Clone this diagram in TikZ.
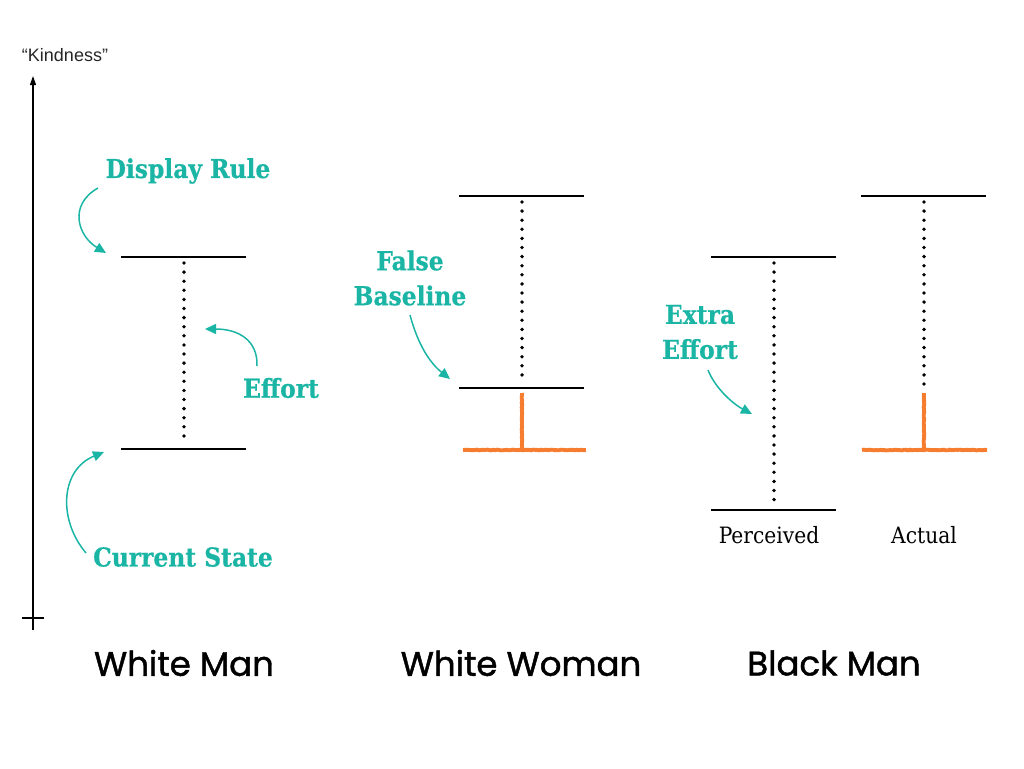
\documentclass[tikz,border=0pt]{standalone}
\usepackage{fontspec}
\setmainfont{DejaVu Serif Condensed}
\newfontfamily\notefont[FakeBold=0.6]{DejaVu Serif Condensed Bold}
\newfontfamily\groupfont[FakeBold=1.3]{Poppins}
\newfontfamily\axisfont{Liberation Sans}
\usetikzlibrary{arrows.meta}
\usetikzlibrary{decorations.pathmorphing}

\definecolor{noteteal}{RGB}{26,181,164}
\definecolor{baseorange}{RGB}{246,125,48}

\begin{document}
\begin{tikzpicture}[
    x=1pt, y=-1pt,
    every node/.style={inner sep=0pt},
    bar/.style={line width=2.4pt},
    gap/.style={line width=3.8pt, line cap=round, dash pattern=on 0pt off 9.1pt},
    base/.style={draw=baseorange, line width=3.9pt,
        decorate, decoration={random steps, segment length=2pt, amplitude=0.35pt}},
    note/.style={text=noteteal, font=\notefont\fontsize{26}{35}\selectfont, align=center},
    pointer/.style={-{Triangle[width=10pt,length=11pt]}, draw=noteteal, line width=1.5pt},
    group/.style={font=\groupfont\fontsize{34}{40}\selectfont},
    column/.style={font=\fontsize{22.5}{26}\selectfont}
]
\useasboundingbox (0,0) rectangle (1024,768);

%---------------------------------
% Axis
%---------------------------------
\coordinate (axbot) at (33,630);
\coordinate (axtop) at (33,76);
\coordinate (tickl) at (22,618);
\coordinate (tickr) at (44,618);
\draw[line width=1.2pt, -{Triangle[width=6pt,length=9pt]}] (axbot) -- (axtop);
\draw[line width=1.2pt] (tickl) -- (tickr);
\node[font=\axisfont\fontsize{18}{20}\selectfont, text=black!85] (kindness) at (65,55) {“Kindness”};

%---------------------------------
% White Man
%---------------------------------
\coordinate (wmtop) at (184,257);
\coordinate (wmbot) at (184,449);
\draw[bar] ([xshift=-63pt]wmtop) -- ([xshift=62pt]wmtop);
\draw[bar] ([xshift=-63pt]wmbot) -- ([xshift=62pt]wmbot);
\draw[gap] ([yshift=-6pt]wmtop) -- ([yshift=5pt]wmbot);

\node[note] (display) at (188,171) {Display Rule};
\node[note] (effort)  at (281,388) {Effort};
\node[note] (current) at (183,557) {Current State};

\coordinate (displayfrom) at (98,188);
\coordinate (displayto)   at (106,253);
\coordinate (effortfrom)  at (257,366);
\coordinate (effortto)    at (205,329);
\coordinate (currentfrom) at (86,553);
\coordinate (currentto)   at (104,452);

\draw[pointer] (displayfrom) .. controls (68,205) and (78,236) .. (displayto);
\draw[pointer] (effortfrom) .. controls (258,340) and (238,329) .. (effortto);
\draw[pointer] (currentfrom) .. controls (58,520) and (60,470) .. (currentto);

\node[group] (whiteman) at (184,663) {White Man};

%---------------------------------
% White Woman
%---------------------------------
\coordinate (wwtop)  at (522,196);
\coordinate (wwmid)  at (522,388);
\coordinate (wwbase) at (522,450);
\draw[bar] ([xshift=-63pt]wwtop) -- ([xshift=62pt]wwtop);
\draw[bar] ([xshift=-63pt]wwmid) -- ([xshift=62pt]wwmid);
\draw[gap] ([yshift=-6pt]wwtop) -- ([yshift=5pt]wwmid);
\draw[base] ([yshift=-5pt]wwmid) -- (wwbase);
\draw[base] ([xshift=-59pt]wwbase) -- ([xshift=64pt]wwbase);

\node[note] (falsebase) at (410,278) {False\\Baseline};
\coordinate (falsefrom) at (410,315);
\coordinate (falseto)   at (450,379);
\draw[pointer] (falsefrom) .. controls (418,345) and (430,363) .. (falseto);

\node[group] (whitewoman) at (521,663) {White Woman};

%---------------------------------
% Black Man
%---------------------------------
% Perceived
\coordinate (pertop) at (774,257);
\coordinate (perbot) at (774,510);
\draw[bar] ([xshift=-63pt]pertop) -- ([xshift=62pt]pertop);
\draw[bar] ([xshift=-63pt]perbot) -- ([xshift=62pt]perbot);
\draw[gap] ([yshift=-6pt]pertop) -- ([yshift=5pt]perbot);
\node[column] (perceived) at (769,535) {Perceived};

% Actual
\coordinate (acttop)  at (924,196);
\coordinate (actmid)  at (924,393);
\coordinate (actbase) at (924,450);
\draw[bar] ([xshift=-63pt]acttop) -- ([xshift=62pt]acttop);
\draw[gap] ([yshift=-6pt]acttop) -- ([yshift=4pt]actmid);
\draw[base] (actmid) -- (actbase);
\draw[base] ([xshift=-62pt]actbase) -- ([xshift=63pt]actbase);
\node[column] (actual) at (924,535) {Actual};

\node[note] (extra) at (700,332) {Extra\\Effort};
\coordinate (extrafrom) at (708,370);
\coordinate (extrato)   at (752,414);
\draw[pointer] (extrafrom) .. controls (716,390) and (735,405) .. (extrato);

\node[group] (blackman) at (834,663) {Black Man};

\end{tikzpicture}
\end{document}
